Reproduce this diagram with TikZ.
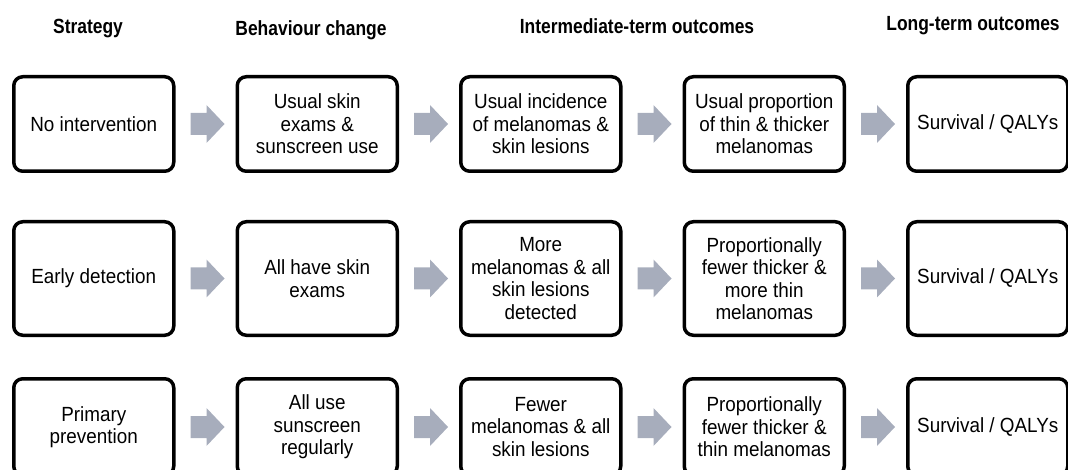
\documentclass[tikz,border=0pt]{standalone}
\usepackage{fontspec}
\setmainfont{Liberation Sans}
\newfontfamily\bodyfont{Liberation Sans}[FakeStretch=0.92]
\newfontfamily\headfont{Liberation Sans}[FakeStretch=0.85]
\usetikzlibrary{calc}
\definecolor{arrowgrey}{RGB}{167,173,188}

\begin{document}
\begin{tikzpicture}[line cap=round,line join=round,x=1pt,y=-1pt,
		stepbox/.style={draw=black,line width=3.5pt,rounded corners=9pt,minimum width=160pt,align=center,inner sep=2pt,font=\bodyfont\fontsize{20.5}{22.5}\selectfont},
		colhead/.style={anchor=base,font=\headfont\bfseries\fontsize{20.5}{24}\selectfont},
		blockarrow/.style={fill=arrowgrey}]
		\clip(0,0) rectangle (1068,470);
		% column headings
		\node[colhead] (hstrat) at (88,34) {Strategy};
		\node[colhead] (hbehav) at (311,36) {Behaviour change};
		\node[colhead] (hinter) at (637,34) {Intermediate-term outcomes};
		\node[colhead] (hlong) at (973,31) {Long-term outcomes};
		% row 1: no intervention
		\node[stepbox,minimum height=94.5pt] (s1) at (93.75,124) {No intervention};
		\node[stepbox,minimum height=94.5pt] (b1) at (317.25,124) {Usual skin\\exams \&\\sunscreen use};
		\node[stepbox,minimum height=94.5pt] (i1) at (540.75,124) {Usual incidence\\of melanomas \&\\skin lesions};
		\node[stepbox,minimum height=94.5pt] (p1) at (764.25,124) {Usual proportion\\of thin \& thicker\\melanomas};
		\node[stepbox,minimum height=94.5pt] (l1) at (987.75,124) {Survival / QALYs};
		% row 2: early detection
		\node[stepbox,minimum height=113.5pt] (s2) at (93.75,278.5) {Early detection};
		\node[stepbox,minimum height=113.5pt] (b2) at (317.25,278.5) {All have skin\\exams};
		\node[stepbox,minimum height=113.5pt] (i2) at (540.75,278.5) {More\\melanomas \& all\\skin lesions\\detected};
		\node[stepbox,minimum height=113.5pt] (p2) at (764.25,278.5) {Proportionally\\fewer thicker \&\\more thin\\melanomas};
		\node[stepbox,minimum height=113.5pt] (l2) at (987.75,278.5) {Survival / QALYs};
		% row 3: primary prevention
		\node[stepbox,minimum height=96.5pt] (s3) at (93.75,427) {Primary\\prevention};
		\node[stepbox,minimum height=96.5pt] (b3) at (317.25,427) {All use\\sunscreen\\regularly};
		\node[stepbox,minimum height=96.5pt] (i3) at (540.75,427) {Fewer\\melanomas \& all\\skin lesions};
		\node[stepbox,minimum height=96.5pt] (p3) at (764.25,427) {Proportionally\\fewer thicker \&\\thin melanomas};
		\node[stepbox,minimum height=96.5pt] (l3) at (987.75,427) {Survival / QALYs};
		% block arrows
		\fill[blockarrow] ($(s1.east)+(15,-11)$) -- ++(16,0) -- ++(0,-8) -- ++(18,19) -- ++(-18,19) -- ++(0,-8) -- ++(-16,0) -- cycle;
		\fill[blockarrow] ($(b1.east)+(15,-11)$) -- ++(16,0) -- ++(0,-8) -- ++(18,19) -- ++(-18,19) -- ++(0,-8) -- ++(-16,0) -- cycle;
		\fill[blockarrow] ($(i1.east)+(15,-11)$) -- ++(16,0) -- ++(0,-8) -- ++(18,19) -- ++(-18,19) -- ++(0,-8) -- ++(-16,0) -- cycle;
		\fill[blockarrow] ($(p1.east)+(15,-11)$) -- ++(16,0) -- ++(0,-8) -- ++(18,19) -- ++(-18,19) -- ++(0,-8) -- ++(-16,0) -- cycle;
		\fill[blockarrow] ($(s2.east)+(15,-11)$) -- ++(16,0) -- ++(0,-8) -- ++(18,19) -- ++(-18,19) -- ++(0,-8) -- ++(-16,0) -- cycle;
		\fill[blockarrow] ($(b2.east)+(15,-11)$) -- ++(16,0) -- ++(0,-8) -- ++(18,19) -- ++(-18,19) -- ++(0,-8) -- ++(-16,0) -- cycle;
		\fill[blockarrow] ($(i2.east)+(15,-11)$) -- ++(16,0) -- ++(0,-8) -- ++(18,19) -- ++(-18,19) -- ++(0,-8) -- ++(-16,0) -- cycle;
		\fill[blockarrow] ($(p2.east)+(15,-11)$) -- ++(16,0) -- ++(0,-8) -- ++(18,19) -- ++(-18,19) -- ++(0,-8) -- ++(-16,0) -- cycle;
		\fill[blockarrow] ($(s3.east)+(15,-11)$) -- ++(16,0) -- ++(0,-8) -- ++(18,19) -- ++(-18,19) -- ++(0,-8) -- ++(-16,0) -- cycle;
		\fill[blockarrow] ($(b3.east)+(15,-11)$) -- ++(16,0) -- ++(0,-8) -- ++(18,19) -- ++(-18,19) -- ++(0,-8) -- ++(-16,0) -- cycle;
		\fill[blockarrow] ($(i3.east)+(15,-11)$) -- ++(16,0) -- ++(0,-8) -- ++(18,19) -- ++(-18,19) -- ++(0,-8) -- ++(-16,0) -- cycle;
		\fill[blockarrow] ($(p3.east)+(15,-11)$) -- ++(16,0) -- ++(0,-8) -- ++(18,19) -- ++(-18,19) -- ++(0,-8) -- ++(-16,0) -- cycle;
	\end{tikzpicture}
\end{document}
